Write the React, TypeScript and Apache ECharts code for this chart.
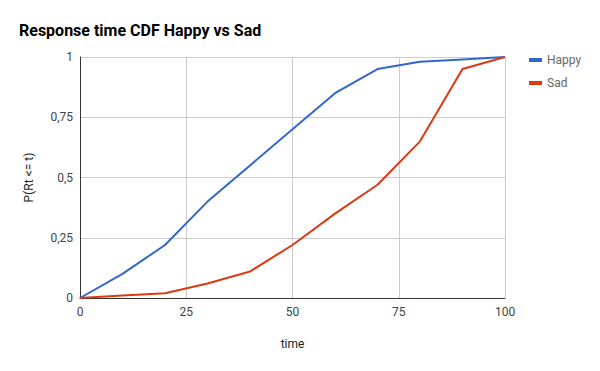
import React, { useEffect, useRef } from "react";
import * as echarts from "echarts";

const times = [0, 10, 20, 30, 40, 50, 60, 70, 80, 90, 100];
const happy = [0, 0.1, 0.22, 0.4, 0.55, 0.7, 0.85, 0.95, 0.98, 0.99, 1];
const sad = [0, 0.01, 0.02, 0.06, 0.11, 0.22, 0.35, 0.47, 0.65, 0.95, 1];
const seriesNames = ["Happy", "Sad"];
const colors = ["#3366cc", "#dc3912"];

export default function App() {
  const ref = useRef<HTMLDivElement>(null);
  useEffect(() => {
    if (!ref.current) return;
    const chart = echarts.init(ref.current, undefined, { renderer: "svg" });
    const fmt = (v: number) => String(v).replace(".", ",");
    chart.setOption({
      animation: false,
      textStyle: { fontFamily: "Roboto" },
      title: {
        text: "Response time CDF Happy vs Sad",
        left: 14,
        top: 17,
        textStyle: { fontFamily: "Roboto", fontWeight: "bold", fontSize: 16, color: "#000" },
      },
      legend: {
        orient: "vertical",
        left: 524,
        top: 49,
        itemWidth: 13,
        itemHeight: 4,
        itemGap: 11,
        icon: "rect",
        data: seriesNames,
        textStyle: { fontFamily: "Roboto", fontSize: 12, color: "#666" },
      },
      grid: { left: 80, right: 95, top: 57, bottom: 73 },
      xAxis: {
        type: "value",
        min: 0,
        max: 100,
        interval: 25,
        name: "time",
        nameLocation: "middle",
        nameGap: 40,
        nameTextStyle: { fontFamily: "Roboto", fontSize: 12, color: "#222" },
        axisLine: { show: true, lineStyle: { color: "#333", width: 1 } },
        axisTick: { show: false },
        axisLabel: { margin: 8, color: "#444", fontSize: 12, fontFamily: "Roboto", formatter: fmt },
        splitLine: { show: true, lineStyle: { color: "#ccc" } },
      },
      yAxis: {
        type: "value",
        min: 0,
        max: 1,
        interval: 0.25,
        name: "P(Rt <= t)",
        nameLocation: "middle",
        nameRotate: 90,
        nameGap: 45,
        nameTextStyle: { fontFamily: "Roboto", fontSize: 12, color: "#222" },
        axisLine: { show: true, lineStyle: { color: "#333", width: 1 } },
        axisTick: { show: false },
        axisLabel: { margin: 7, color: "#444", fontSize: 12, fontFamily: "Roboto", formatter: fmt },
        splitLine: { show: true, lineStyle: { color: "#ccc" } },
      },
      series: [
        {
          name: seriesNames[0],
          type: "line",
          data: times.map((t, i) => [t, happy[i]]),
          showSymbol: false,
          symbol: "none",
          lineStyle: { color: colors[0], width: 2 },
          itemStyle: { color: colors[0] },
          z: 3,
        },
        {
          name: seriesNames[1],
          type: "line",
          data: times.map((t, i) => [t, sad[i]]),
          showSymbol: false,
          symbol: "none",
          lineStyle: { color: colors[1], width: 2 },
          itemStyle: { color: colors[1] },
          z: 4,
        },
      ],
    });
    return () => chart.dispose();
  }, []);
  return <div ref={ref} style={{ width: 600, height: 371, margin: -8 }} />;
}
